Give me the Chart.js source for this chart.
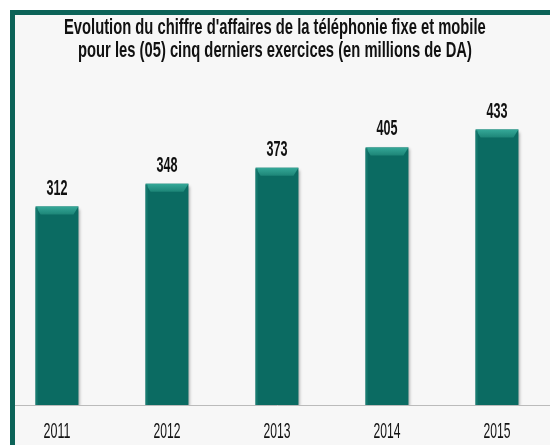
<!DOCTYPE html>
<html>
<head>
<meta charset="utf-8">
<script src="https://cdn.jsdelivr.net/npm/chart.js@4"></script>
<style>
  body { margin: 0; background: #fff; overflow: hidden; width: 550px; height: 445px; position: relative; }
  #frame { position: absolute; left: 10px; top: 10px; width: 560px; height: 450px;
           border-left: 5px solid #0c6358; border-top: 5px solid #0c6358; background: #f7f7f7; overflow: hidden; }
  #wrap { position: absolute; left: -15px; top: -15px; width: 554px; height: 445px; }
  .tline { position: absolute; white-space: nowrap; transform-origin: 0 0;
           font: bold 22px 'Liberation Sans', Arial, sans-serif; color: #111; line-height: 24px; }
</style>
</head>
<body>
<div id="frame"><div id="wrap"><canvas id="ca" width="554" height="445"></canvas></div></div>
<div id="title"></div>
<script>
// data
const years = ['2011', '2012', '2013', '2014', '2015'];
const revenue = [312, 348, 373, 405, 433];
const titleLines = [
  "Evolution du chiffre d'affaires de la téléphonie fixe et mobile",
  "pour les (05) cinq derniers exercices (en millions de DA)"
];

// title, squeezed like the original narrow font
const titleWidths = [422, 394];
const titleTops = [14.5, 37.5];
const titleEl = document.getElementById('title');
titleLines.forEach((t, i) => {
  const s = document.createElement('div');
  s.className = 'tline';
  s.textContent = t;
  titleEl.appendChild(s);
  const w = s.offsetWidth;
  s.style.left = (275 - titleWidths[i] / 2) + 'px';
  s.style.top = titleTops[i] + 'px';
  s.style.transform = 'scaleX(' + (titleWidths[i] / w) + ')';
});

// squeezed text, the original uses a very narrow font
function narrowText(ctx, txt, x, y, font, width) {
  ctx.save();
  ctx.font = font;
  const w = ctx.measureText(txt).width;
  ctx.translate(x, y);
  ctx.scale(width / w, 1);
  ctx.fillStyle = '#111';
  ctx.textAlign = 'center';
  ctx.textBaseline = 'middle';
  ctx.fillText(txt, 0, 0);
  ctx.restore();
}

const shadowBars = {
  id: 'shadowBars',
  beforeDatasetsDraw(chart) {
    const ctx = chart.ctx;
    ctx.save();
    ctx.shadowColor = 'rgba(0,0,0,0.35)';
    ctx.shadowOffsetX = 2;
    ctx.shadowOffsetY = 2;
    ctx.shadowBlur = 3;
  },
  afterDatasetsDraw(chart) {
    const ctx = chart.ctx;
    ctx.restore();
    chart.getDatasetMeta(0).data.forEach((bar, i) => {
      const l = bar.x - bar.width / 2, r = bar.x + bar.width / 2, t = bar.y;
      // bevel on top
      const g = ctx.createLinearGradient(0, t, 0, t + 8);
      g.addColorStop(0, '#35a898');
      g.addColorStop(1, '#1d8577');
      ctx.fillStyle = g;
      ctx.beginPath();
      ctx.moveTo(l, t); ctx.lineTo(r, t); ctx.lineTo(r - 5, t + 8); ctx.lineTo(l + 5, t + 8);
      ctx.closePath(); ctx.fill();
      ctx.fillStyle = '#167a6f';
      ctx.fillRect(l, t + 1, 2, bar.base - t - 1);
      narrowText(ctx, String(revenue[i]), bar.x, t - 18, "bold 22px 'Liberation Sans', Arial, sans-serif", 21);
    });
    // category labels
    const xs = chart.scales.x;
    xs.ticks.forEach((tk, i) => {
      narrowText(ctx, xs.getLabelForValue(tk.value), xs.getPixelForTick(i), 432, "22px 'Liberation Sans', Arial, sans-serif", 27);
    });
  }
};

const chart = new Chart(document.getElementById('ca'), {
  type: 'bar',
  data: {
    labels: years,
    datasets: [{
      data: revenue,
      backgroundColor: '#0b6b62',
      borderWidth: 0,
      categoryPercentage: 1,
      barPercentage: 0.39
    }]
  },
  options: {
    responsive: false,
    animation: false,
    layout: { padding: { top: 87, left: 2, right: 2, bottom: 0 } },
    plugins: { legend: { display: false }, tooltip: { enabled: false }, title: { display: false } },
    scales: {
      y: { display: false, min: 0, max: 500 },
      x: {
        grid: { display: false, drawTicks: false },
        border: { display: true, color: '#bbbbbb', width: 1 },
        ticks: { display: false },
        afterFit(scale) { scale.height = 40; }
      }
    }
  },
  plugins: [shadowBars]
});
</script>
</body>
</html>
